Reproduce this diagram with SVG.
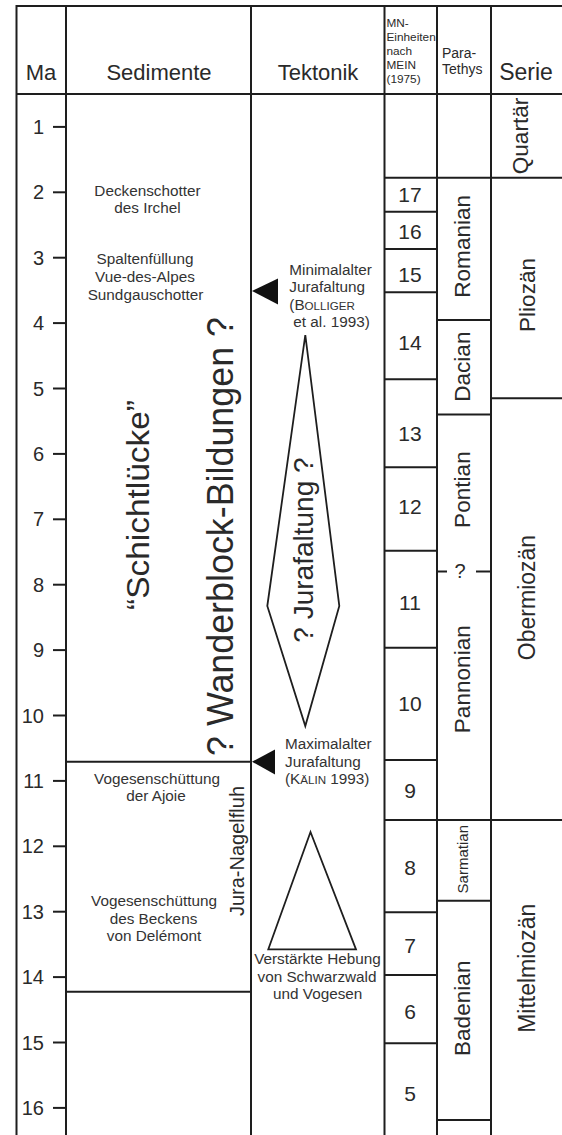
<svg xmlns="http://www.w3.org/2000/svg" width="562" height="1135" viewBox="0 0 562 1135">
<style>
  .ln { stroke: #1e1e1e; stroke-width: 2; fill: none; }
  .shape { stroke: #1e1e1e; stroke-width: 1.8; fill: #fff; stroke-linejoin: miter; }
  .mark { fill: #111; stroke: none; }
  text { font-family: "Liberation Sans", Arial, sans-serif; fill: #2a2a2a; }
  .hd { font-size: 22px; text-anchor: middle; }
  .hs { font-size: 11.8px; }
  .hp { font-size: 14px; }
  .ma { font-size: 20px; text-anchor: end; }
  .sm { font-size: 15.3px; fill: #333; }
  .c { text-anchor: middle; }
  .mn { font-size: 21px; text-anchor: middle; }
  .vt { font-size: 22.6px; text-anchor: middle; }
  .sc { font-size: 11.6px; }
</style>
<rect x="0" y="0" width="562" height="1135" fill="#fff"/>

<g id="frame">
  <line class="ln" x1="16.5" y1="6" x2="562" y2="6"/>
  <line class="ln" x1="16.5" y1="94" x2="562" y2="94"/>
  <line class="ln" x1="16.5" y1="5" x2="16.5" y2="1135"/>
  <line class="ln" x1="66" y1="6" x2="66" y2="1135"/>
  <line class="ln" x1="251" y1="6" x2="251" y2="1135"/>
  <line class="ln" x1="384.5" y1="6" x2="384.5" y2="1135"/>
  <line class="ln" x1="437" y1="6" x2="437" y2="1135"/>
  <line class="ln" x1="491" y1="6" x2="491" y2="1135"/>
</g>

<g id="header">
  <text class="hd" x="41" y="80">Ma</text>
  <text class="hd" x="159" y="80">Sedimente</text>
  <text class="hd" x="318" y="80">Tektonik</text>
  <text class="hs" x="386.5" y="27">MN-</text>
  <text class="hs" x="386.5" y="41">Einheiten</text>
  <text class="hs" x="386.5" y="55">nach</text>
  <text class="hs" x="386.5" y="69">MEIN</text>
  <text class="hs" x="386.5" y="83">(1975)</text>
  <text class="hp" x="442" y="58">Para-</text>
  <text class="hp" x="442" y="74">Tethys</text>
  <text class="hd" x="526" y="80" style="font-size:23px">Serie</text>
</g>

<g id="ma-axis">
  <g class="ln">
    <line x1="53" y1="126.9" x2="66" y2="126.9"/>
    <line x1="53" y1="192.3" x2="66" y2="192.3"/>
    <line x1="53" y1="257.7" x2="66" y2="257.7"/>
    <line x1="53" y1="323.1" x2="66" y2="323.1"/>
    <line x1="53" y1="388.5" x2="66" y2="388.5"/>
    <line x1="53" y1="453.9" x2="66" y2="453.9"/>
    <line x1="53" y1="519.3" x2="66" y2="519.3"/>
    <line x1="53" y1="584.7" x2="66" y2="584.7"/>
    <line x1="53" y1="650.1" x2="66" y2="650.1"/>
    <line x1="53" y1="715.5" x2="66" y2="715.5"/>
    <line x1="53" y1="780.9" x2="66" y2="780.9"/>
    <line x1="53" y1="846.3" x2="66" y2="846.3"/>
    <line x1="53" y1="911.7" x2="66" y2="911.7"/>
    <line x1="53" y1="977.1" x2="66" y2="977.1"/>
    <line x1="53" y1="1042.5" x2="66" y2="1042.5"/>
    <line x1="53" y1="1107.9" x2="66" y2="1107.9"/>
  </g>
  <text class="ma" x="44" y="134">1</text>
  <text class="ma" x="44" y="199.4">2</text>
  <text class="ma" x="44" y="264.8">3</text>
  <text class="ma" x="44" y="330.2">4</text>
  <text class="ma" x="44" y="395.6">5</text>
  <text class="ma" x="44" y="461">6</text>
  <text class="ma" x="44" y="526.4">7</text>
  <text class="ma" x="44" y="591.8">8</text>
  <text class="ma" x="44" y="657.2">9</text>
  <text class="ma" x="44" y="722.6">10</text>
  <text class="ma" x="44" y="788">11</text>
  <text class="ma" x="44" y="853.4">12</text>
  <text class="ma" x="44" y="918.8">13</text>
  <text class="ma" x="44" y="984.2">14</text>
  <text class="ma" x="44" y="1049.6">15</text>
  <text class="ma" x="44" y="1115">16</text>
</g>

<g id="sedimente">
  <line class="ln" x1="66" y1="761.7" x2="251" y2="761.7"/>
  <line class="ln" x1="66" y1="991.7" x2="251" y2="991.7"/>
  <text class="sm c" x="147.5" y="195.7">Deckenschotter</text>
  <text class="sm c" x="147.5" y="213.3">des Irchel</text>
  <text class="sm c" x="145" y="264">Spaltenfüllung</text>
  <text class="sm c" x="145" y="282">Vue-des-Alpes</text>
  <text class="sm c" x="145.5" y="300">Sundgauschotter</text>
  <text transform="translate(149,505) rotate(-90)" text-anchor="middle" style="font-size:32px" textLength="210" lengthAdjust="spacingAndGlyphs">“Schichtlücke”</text>
  <text transform="translate(233,536.5) rotate(-90)" text-anchor="middle" style="font-size:36px" textLength="439" lengthAdjust="spacingAndGlyphs">? Wanderblock-Bildungen ?</text>
  <text class="sm c" x="157" y="784.3">Vogesenschüttung</text>
  <text class="sm c" x="156" y="800.5">der Ajoie</text>
  <text class="sm c" x="154" y="906">Vogesenschüttung</text>
  <text class="sm c" x="153.5" y="923.5">des Beckens</text>
  <text class="sm c" x="154" y="941">von Delémont</text>
  <text transform="translate(244,851) rotate(-90)" text-anchor="middle" style="font-size:20px">Jura-Nagelfluh</text>
</g>

<g id="tektonik">
  <polygon class="mark" points="252,291 278,278.5 278,304.5"/>
  <text class="sm" x="289.3" y="275">Minimalalter</text>
  <text class="sm" x="289.3" y="292.3">Jurafaltung</text>
  <text class="sm" x="289.3" y="309.6">(B<tspan class="sc">OLLIGER</tspan></text>
  <text class="sm" x="293.3" y="327">et al. 1993)</text>
  <polygon class="shape" points="305.3,335 339.3,606 305.3,726 267.3,606"/>
  <text transform="translate(313,550) rotate(-90)" text-anchor="middle" style="font-size:28px">? Jurafaltung ?</text>
  <polygon class="mark" points="252,761.7 275,749.5 275,774.5"/>
  <text class="sm" x="285" y="749">Maximalalter</text>
  <text class="sm" x="285" y="766.5">Jurafaltung</text>
  <text class="sm" x="285" y="784">(K<tspan class="sc">ÄLIN</tspan> 1993)</text>
  <polygon class="shape" points="310.5,832 356,949.3 268.3,949.3"/>
  <text class="sm c" x="317.5" y="964">Verstärkte Hebung</text>
  <text class="sm c" x="317" y="981.5">von Schwarzwald</text>
  <text class="sm c" x="317.7" y="999">und Vogesen</text>
</g>

<g id="mn">
  <g class="ln">
    <line x1="384.5" y1="177.7" x2="437" y2="177.7"/>
    <line x1="384.5" y1="211.7" x2="437" y2="211.7"/>
    <line x1="384.5" y1="249" x2="437" y2="249"/>
    <line x1="384.5" y1="292.3" x2="437" y2="292.3"/>
    <line x1="384.5" y1="379.3" x2="437" y2="379.3"/>
    <line x1="384.5" y1="467.3" x2="437" y2="467.3"/>
    <line x1="384.5" y1="550.7" x2="437" y2="550.7"/>
    <line x1="384.5" y1="647.7" x2="437" y2="647.7"/>
    <line x1="384.5" y1="760" x2="437" y2="760"/>
    <line x1="384.5" y1="820" x2="437" y2="820"/>
    <line x1="384.5" y1="912.3" x2="437" y2="912.3"/>
    <line x1="384.5" y1="975" x2="437" y2="975"/>
    <line x1="384.5" y1="1043.3" x2="437" y2="1043.3"/>
  </g>
  <text class="mn" x="410" y="202.3">17</text>
  <text class="mn" x="410" y="239.3">16</text>
  <text class="mn" x="410" y="282.3">15</text>
  <text class="mn" x="410" y="349.6">14</text>
  <text class="mn" x="410" y="440.6">13</text>
  <text class="mn" x="410" y="514.3">12</text>
  <text class="mn" x="410" y="610.1">11</text>
  <text class="mn" x="410" y="710.9">10</text>
  <text class="mn" x="410" y="797.6">9</text>
  <text class="mn" x="410" y="875.1">8</text>
  <text class="mn" x="410" y="952.6">7</text>
  <text class="mn" x="410" y="1019.3">6</text>
  <text class="mn" x="410" y="1100.9">5</text>
</g>

<g id="paratethys">
  <g class="ln">
    <line x1="437" y1="177.7" x2="491" y2="177.7"/>
    <line x1="437" y1="320" x2="491" y2="320"/>
    <line x1="437" y1="414.5" x2="491" y2="414.5"/>
    <line x1="437" y1="571.5" x2="447" y2="571.5"/>
    <line x1="476" y1="571.5" x2="491" y2="571.5"/>
    <line x1="437" y1="820" x2="491" y2="820"/>
    <line x1="437" y1="900.7" x2="491" y2="900.7"/>
    <line x1="437" y1="1120" x2="491" y2="1120"/>
  </g>
  <text class="c" x="460" y="577.5" style="font-size:20px">?</text>
  <text class="vt" transform="translate(469.5,246.3) rotate(-90)">Romanian</text>
  <text class="vt" transform="translate(469.5,366.7) rotate(-90)">Dacian</text>
  <text class="vt" transform="translate(469.5,489.6) rotate(-90)">Pontian</text>
  <text class="vt" transform="translate(469.5,679.2) rotate(-90)">Pannonian</text>
  <text transform="translate(467.5,859.2) rotate(-90)" text-anchor="middle" style="font-size:15px">Sarmatian</text>
  <text class="vt" transform="translate(469.5,1008.3) rotate(-90)">Badenian</text>
</g>

<g id="serie">
  <g class="ln">
    <line x1="491" y1="177.7" x2="562" y2="177.7"/>
    <line x1="491" y1="398.3" x2="562" y2="398.3"/>
    <line x1="491" y1="820" x2="562" y2="820"/>
  </g>
  <text class="vt" transform="translate(528,136) rotate(-90)">Quartär</text>
  <text class="vt" transform="translate(535,295) rotate(-90)">Pliozän</text>
  <text class="vt" transform="translate(535,597.5) rotate(-90)" style="font-size:23px">Obermiozän</text>
  <text class="vt" transform="translate(535,968.3) rotate(-90)" style="font-size:23px">Mittelmiozän</text>
</g>

<g id="connectors"></g>
</svg>
